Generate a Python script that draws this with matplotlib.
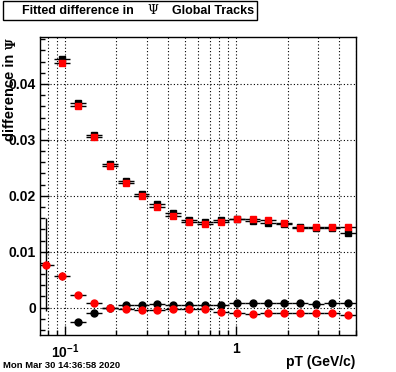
import numpy as np
import matplotlib
matplotlib.use('Agg')
import matplotlib.pyplot as plt
from matplotlib.ticker import FixedLocator, FixedFormatter, MultipleLocator, NullFormatter
from matplotlib.patches import Rectangle

plt.rcParams['font.family'] = ['Liberation Sans', 'DejaVu Sans']
plt.rcParams['font.weight'] = 'bold'
plt.rcParams['mathtext.fontset'] = 'custom'
plt.rcParams['mathtext.rm'] = 'Liberation Sans:bold'
plt.rcParams['mathtext.bf'] = 'Liberation Sans:bold'

nan = np.nan

# pT bin edges (GeV/c), log spaced
pt_edges = [0.0700, 0.0866, 0.1073, 0.1328, 0.1644, 0.2035, 0.2519, 0.3118,
            0.3860, 0.4779, 0.5915, 0.7323, 0.9065, 1.1222, 1.3891, 1.7196,
            2.1287, 2.6352, 3.2621, 4.0381, 5.0000]

# upper pair (squares)
sq_black = [nan, 0.0445, 0.0366, 0.0308, 0.0257, 0.0226, 0.0203, 0.0185, 0.0169, 0.0156,
            0.0153, 0.0156, 0.0159, 0.0155, 0.0152, 0.0150, 0.0144, 0.0142, 0.0142, 0.0133]
sq_red = [nan, 0.0438, 0.0360, 0.0305, 0.0254, 0.0222, 0.0200, 0.0180, 0.0164, 0.0154,
          0.0150, 0.0153, 0.0159, 0.0159, 0.0157, 0.0151, 0.0143, 0.0144, 0.0145, 0.0144]

# lower pair (circles)
circ_black = [nan, nan, -0.0026, -0.0010, 0.0000, 0.0004, 0.0005, 0.0006, 0.0005, 0.0005,
              0.0005, 0.0005, 0.0008, 0.0009, 0.0009, 0.0008, 0.0008, 0.0006, 0.0008, 0.0009]
circ_red = [0.0077, 0.0056, 0.0022, 0.0008, -0.0001, -0.0003, -0.0005, -0.0005, -0.0003, -0.0003,
            -0.0003, -0.0007, -0.0010, -0.0012, -0.0010, -0.0009, -0.0009, -0.0010, -0.0010, -0.0014]
circ_red_err = [0.0083, 0.0007, 0.0003, 0.0003, 0.0003, 0.0003, 0.0003, 0.0003, 0.0003, 0.0003,
                0.0003, 0.0003, 0.0003, 0.0003, 0.0003, 0.0003, 0.0003, 0.0003, 0.0003, 0.0003]

edges = np.array(pt_edges)
pt = np.sqrt(edges[:-1] * edges[1:])
xerr = [pt - edges[:-1], edges[1:] - pt]

W, H = 396, 372
fig = plt.figure(figsize=(W / 100, H / 100), dpi=100)
ax = fig.add_axes([40 / W, 37 / H, 316 / W, 298 / H])

def draw(y, marker, col, ms, yerr=None):
    ax.errorbar(pt, y, xerr=xerr, yerr=yerr, fmt=marker, color='black', ecolor='black',
                elinewidth=1.0, capsize=0, mfc=col, mec=col, ms=ms)

draw(sq_black, 's', 'black', 4.4)
draw(sq_red, 's', 'red', 4.4)
draw(circ_black, 'o', 'black', 5.0)
draw(circ_red, 'o', 'red', 5.0, yerr=circ_red_err)

ax.set_xscale('log')
ax.set_xlim(0.0714, 5.03)
ax.set_ylim(-0.0049, 0.0484)

ax.xaxis.set_major_locator(FixedLocator([0.1, 1]))
ax.xaxis.set_major_formatter(FixedFormatter([r'$10^{-1}$', '1']))
ax.xaxis.set_minor_locator(FixedLocator([0.08, 0.09, 0.2, 0.3, 0.4, 0.5, 0.6, 0.7, 0.8, 0.9, 2, 3, 4, 5]))
ax.xaxis.set_minor_formatter(NullFormatter())
ax.yaxis.set_major_locator(MultipleLocator(0.01))
ax.yaxis.set_minor_locator(MultipleLocator(0.002))
ax.yaxis.set_major_formatter(FixedFormatter([]))
ax.set_yticks([0, 0.01, 0.02, 0.03, 0.04])
ax.set_yticklabels(['0', '0.01', '0.02', '0.03', '0.04'])

ax.tick_params(which='both', direction='in', top=False, right=False, width=1, labelsize=10)
ax.tick_params(which='major', length=6.5, pad=5)
ax.tick_params(which='minor', length=3.5)
ax.tick_params(axis='y', pad=3)

grid_kw = dict(color='black', linestyle=(0, (1, 2)), linewidth=0.8)
ax.grid(True, which='both', axis='x', **grid_kw)
ax.grid(True, which='major', axis='y', **grid_kw)
for s in ax.spines.values():
    s.set_linewidth(1.0)

# title box
fig.patches.append(Rectangle((3 / W, 1 - 20 / H), 254 / W, 19 / H, transform=fig.transFigure,
                             facecolor='white', edgecolor='black', linewidth=1))
fig.text(22 / W, 1 - 10.5 / H, 'Fitted difference in', fontsize=9, weight='bold', va='center')
fig.text(153 / W, 1 - 10.5 / H, '\u03a8', fontsize=9, weight='normal', family='DejaVu Serif',
         ha='center', va='center')
fig.text(172 / W, 1 - 10.5 / H, 'Global Tracks', fontsize=9, weight='bold', va='center')

# axis titles
fig.text(10 / W, 1 - 54 / H, 'difference in', rotation=90, fontsize=10.5, weight='bold',
         ha='center', va='top')
fig.text(12 / W, 1 - 38 / H, '\u03a8', rotation=90, fontsize=8.5, family='DejaVu Serif',
         ha='center', va='top')
fig.text(355 / W, 1 - 362 / H, 'pT (GeV/c)', fontsize=10, weight='bold', ha='right', va='center')

fig.text(3 / W, 1 - 365 / H, 'Mon Mar 30 14:36:58 2020', fontsize=6.8, weight='bold', va='center')

fig.savefig('out.png', dpi=100)
